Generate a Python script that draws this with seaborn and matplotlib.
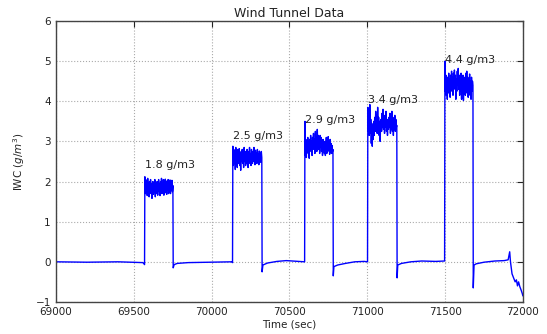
import numpy as np
import pandas as pd
import matplotlib
matplotlib.use("Agg")
import matplotlib.pyplot as plt
import seaborn as sns

# pulse timing (sec) and labels
pulse_start = [69572, 70137, 70600, 71004, 71499]
pulse_end = [69752, 70323, 70780, 71190, 71679]
pulse_labels = ["1.8 g/m3", "2.5 g/m3", "2.9 g/m3", "3.4 g/m3", "4.4 g/m3"]
label_y = [2.3, 3.0, 3.4, 3.9, 4.9]

# plateau readings (g/m3)
plateau_1 = [2.12, 1.7, 2.05, 1.75, 1.98, 1.65, 2.08, 1.8, 1.95, 1.62, 2.0, 1.78, 2.05, 1.7, 1.95,
             1.58, 1.9, 2.0, 1.68, 1.95, 1.75, 2.05, 1.62, 1.9, 1.98, 1.7, 2.0, 1.66, 1.9, 2.05,
             1.75, 1.95, 1.65, 2.0, 1.8, 2.08, 1.7, 1.95, 1.76, 2.05, 1.66, 2.0, 1.8, 2.06, 1.72,
             1.96, 1.68, 2.02, 1.78, 2.05, 1.7, 1.98, 1.74, 2.04, 1.7, 1.95, 1.78, 2.03, 1.75, 1.9]
plateau_2 = [2.88, 2.4, 2.8, 2.45, 2.75, 2.3, 2.85, 2.5, 2.7, 2.35, 2.8, 2.55, 2.45, 2.82, 2.4,
             2.7, 2.28, 2.75, 2.5, 2.8, 2.45, 2.65, 2.35, 2.85, 2.5, 2.75, 2.4, 2.7, 2.45, 2.8,
             2.55, 2.35, 2.75, 2.5, 2.85, 2.45, 2.7, 2.4, 2.8, 2.55, 2.45, 2.75, 2.5, 2.85, 2.55,
             2.42, 2.78, 2.5, 2.72, 2.45, 2.8, 2.52, 2.68, 2.42, 2.76, 2.55, 2.7, 2.48, 2.75, 2.6]
plateau_3 = [3.5, 2.65, 3.05, 2.6, 3.0, 2.75, 3.1, 2.7, 2.95, 2.58, 3.05, 2.8, 3.15, 2.75, 3.0,
             2.65, 3.1, 2.85, 3.2, 2.8, 3.05, 2.7, 3.25, 2.85, 3.1, 2.75, 3.3, 2.9, 3.15, 2.8,
             3.05, 2.7, 3.15, 2.85, 3.1, 2.75, 3.0, 2.65, 3.05, 2.8, 2.95, 2.7, 3.0, 2.65, 2.85,
             3.1, 2.7, 3.05, 2.75, 3.12, 2.8, 3.0, 2.68, 3.05, 2.75, 2.95, 2.7, 2.9, 2.75, 2.8]
plateau_4 = [3.85, 3.25, 3.65, 3.15, 3.92, 3.2, 3.55, 2.95, 3.45, 2.88, 3.35, 3.05, 3.5, 3.15, 3.6,
             3.25, 3.75, 3.3, 3.65, 3.2, 3.85, 3.35, 3.6, 3.15, 3.5, 3.0, 3.4, 3.55, 3.25, 3.7,
             3.35, 3.8, 3.3, 3.6, 3.2, 3.65, 3.35, 3.75, 3.25, 3.55, 3.15, 3.5, 3.3, 3.6, 3.35,
             3.7, 3.2, 3.55, 3.3, 3.75, 3.25, 3.6, 3.15, 3.5, 3.3, 3.65, 3.25, 3.55, 3.35, 3.4]
plateau_5 = [5.0, 4.25, 4.65, 4.15, 4.55, 4.05, 4.6, 4.3, 4.7, 4.2, 4.55, 4.1, 4.65, 4.35, 4.75,
             4.25, 4.6, 4.15, 4.7, 4.3, 4.78, 4.35, 4.65, 4.05, 4.55, 4.25, 4.75, 4.4, 4.82, 4.3,
             4.65, 4.15, 4.6, 4.25, 4.7, 4.05, 4.55, 4.2, 4.65, 4.02, 4.5, 4.25, 4.6, 4.15, 4.7,
             4.3, 4.75, 4.2, 4.6, 4.1, 4.55, 4.3, 4.68, 4.15, 4.5, 4.05, 4.6, 4.25, 4.5, 4.4]

# baseline readings between pulses
lead_t = [69000, 69200, 69400, 69560, 69570]
lead_v = [0.0, -0.01, 0.0, -0.02, -0.07]
gap1_t = [69754, 69760, 69780, 69850, 70000, 70130, 70135]
gap1_v = [-0.15, -0.07, -0.04, -0.02, -0.01, 0.0, -0.02]
gap2_t = [70325, 70330, 70360, 70420, 70480, 70560, 70598]
gap2_v = [-0.25, -0.08, -0.03, 0.01, 0.03, 0.01, 0.0]
gap3_t = [70782, 70786, 70810, 70860, 70920, 70980, 71002]
gap3_v = [-0.35, -0.12, -0.08, -0.04, 0.0, 0.01, 0.0]
gap4_t = [71192, 71196, 71220, 71280, 71350, 71440, 71497]
gap4_v = [-0.4, -0.08, -0.04, 0.0, 0.02, 0.01, 0.02]
tail_t = [71681, 71686, 71700, 71750, 71820, 71880, 71905, 71915, 71920, 71930, 71940,
          71950, 71958, 71965, 71972, 71980, 71988, 71995, 72000]
tail_v = [-0.65, -0.08, -0.05, -0.01, 0.02, 0.03, 0.05, 0.25, 0.0, -0.3, -0.4,
          -0.5, -0.45, -0.6, -0.5, -0.62, -0.7, -0.78, -0.85]

plateaus = [plateau_1, plateau_2, plateau_3, plateau_4, plateau_5]
gaps_t = [gap1_t, gap2_t, gap3_t, gap4_t, tail_t]
gaps_v = [gap1_v, gap2_v, gap3_v, gap4_v, tail_v]

times = list(lead_t)
vals = list(lead_v)
for s, e, p, gt, gv in zip(pulse_start, pulse_end, plateaus, gaps_t, gaps_v):
    times += list(np.linspace(s, e, len(p)))
    vals += p
    times += gt
    vals += gv
df = pd.DataFrame({"time": times, "iwc": vals})

sns.set_style("white")
plt.rcParams["font.family"] = ["DejaVu Sans"]
plt.rcParams["font.size"] = 7.5

fig = plt.figure(figsize=(5.47, 3.34), dpi=100)
ax = fig.add_axes([0.102, 0.096, 0.854, 0.841])
sns.lineplot(data=df, x="time", y="iwc", ax=ax, color="#0000ff", linewidth=1.0,
             estimator=None, sort=False)

for s, lab, y in zip(pulse_start, pulse_labels, label_y):
    ax.text(s, y, lab, fontsize=8, color="#222222", va="bottom", ha="left")

ax.set_xlim(69000, 72000)
ax.set_ylim(-1, 6)
ax.set_xticks(np.arange(69000, 72001, 500))
ax.set_yticks(np.arange(-1, 7, 1))
ax.set_yticklabels([u"\u22121", "0", "1", "2", "3", "4", "5", "6"])
ax.grid(True, linestyle=":", color="#aaaaaa", linewidth=0.8)
ax.tick_params(direction="in", top=True, right=True, length=4, labelsize=7.5,
               colors="#222222")
for sp in ax.spines.values():
    sp.set_color("#444444")
    sp.set_linewidth(1.0)
ax.set_title("Wind Tunnel Data", fontsize=9, color="#222222", pad=3)
ax.set_xlabel("Time (sec)", fontsize=7.5, color="#222222", labelpad=2)
ax.set_ylabel("IWC ($g/m^3$)", fontsize=7.5, color="#222222", labelpad=6)

fig.savefig("out.png", dpi=100)
